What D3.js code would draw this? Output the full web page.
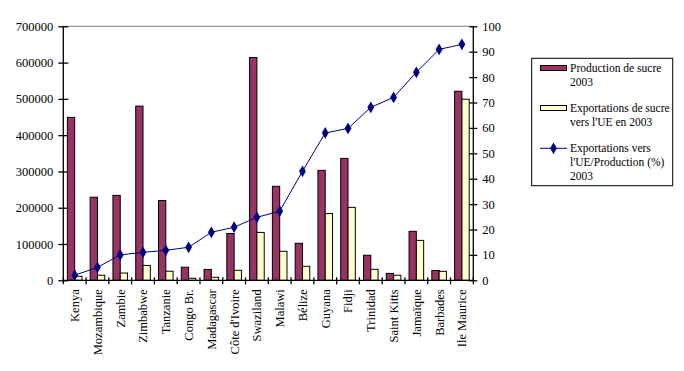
<!DOCTYPE html>
<html><head><meta charset="utf-8">
<script src="https://cdn.jsdelivr.net/npm/d3@7"></script>
<style>body{margin:0;background:#fff}svg text{font-family:"Liberation Serif","Times New Roman",serif;fill:#000}</style>
</head><body>
<svg id="c" width="684" height="371"></svg>
<script>
const categories = ["Kenya","Mozambique","Zambie","Zimbabwe","Tanzanie","Congo Br.","Madagascar","Côte d'Ivoire","Swaziland","Malawi","Bélize","Guyana","Fidji","Trinidad","Saint Kitts","Jamaïque","Barbades","Ile Maurice"];
const production = [449000,229000,234000,480000,220000,36000,30000,129000,614000,259000,102000,303000,336000,69000,19000,135000,27000,521000];
const exportsUE = [11000,14000,20000,41000,25000,5500,8300,27500,132000,80000,38600,184000,201000,30300,13800,110000,24800,499000];
const ratio = [2.0,5.1,10.0,11.0,11.8,13.0,18.9,20.9,24.8,27.2,42.9,58.0,59.8,68.1,72.0,81.9,90.9,92.9];
const leftTicks = [0,100000,200000,300000,400000,500000,600000,700000];
const rightTicks = [0,10,20,30,40,50,60,70,80,90,100];
const seriesNames = [["Production de sucre","2003"],["Exportations de sucre","vers l'UE en 2003"],["Exportations vers","l'UE/Production (%)","2003"]];

const svg = d3.select("#c");
const L=63.3, R=473.3, T=26.3, B=280.3;
const x = d3.scaleBand().domain(categories).range([L,R]).padding(0);
const y = d3.scaleLinear().domain([0,700000]).range([B,T]);
const y2 = d3.scaleLinear().domain([0,100]).range([B,T]);
const bw = 7.3;

svg.append("line").attr("x1",L).attr("x2",R).attr("y1",T).attr("y2",T).attr("stroke","#808080").attr("stroke-width",1);

const g = svg.append("g");
categories.forEach((c,i)=>{
  const cx = x(c)+x.bandwidth()/2;
  g.append("rect").attr("x",cx-bw).attr("y",y(production[i])).attr("width",bw).attr("height",B-y(production[i]))
    .attr("fill","#993366").attr("stroke","#000").attr("stroke-width",1);
  g.append("rect").attr("x",cx).attr("y",y(exportsUE[i])).attr("width",bw).attr("height",B-y(exportsUE[i]))
    .attr("fill","#FFFFCC").attr("stroke","#000").attr("stroke-width",1);
});

const line = d3.line().x((d,i)=>x(categories[i])+x.bandwidth()/2).y(d=>y2(d));
svg.append("path").datum(ratio).attr("d",line).attr("fill","none").attr("stroke","#000080").attr("stroke-width",1);
const diamond = d3.symbol().type(d3.symbolDiamond).size(40);
svg.selectAll(".mk").data(ratio).join("path").attr("class","mk").attr("d",diamond)
  .attr("transform",(d,i)=>`translate(${x(categories[i])+x.bandwidth()/2},${y2(d)})`).attr("fill","#000080");

const axL = svg.append("g").attr("transform",`translate(${L},0)`)
  .call(d3.axisLeft(y).tickValues(leftTicks).tickFormat(d3.format("d")).tickSize(5).tickPadding(5));
axL.selectAll(".tick line").attr("x2",-5).attr("x1",5);
const axR = svg.append("g").attr("transform",`translate(${R},0)`)
  .call(d3.axisRight(y2).tickValues(rightTicks).tickSize(4).tickPadding(5));
axR.selectAll(".tick line").attr("x1",-4).attr("x2",4);
const axB = svg.append("g").attr("transform",`translate(0,${B})`)
  .call(d3.axisBottom(x).tickSize(0).tickPadding(0));
[axL,axR,axB].forEach(a=>{a.attr("font-family",null);a.select(".domain").attr("stroke","#000").attr("stroke-width",1.3);a.selectAll(".tick line").attr("stroke","#000").attr("stroke-width",1.3);a.selectAll("text").style("font-size","12.5px");});
axL.select(".domain").attr("d",`M0,${T}V${B}`);
axR.select(".domain").attr("d",`M0,${T}V${B}`);
axB.select(".domain").attr("d",`M${L},0H${R}`);
const seps = categories.map(c=>x(c)).concat([R]);
axB.selectAll(".sep").data(seps).join("line").attr("class","sep").attr("x1",d=>d).attr("x2",d=>d).attr("y1",-3).attr("y2",4).attr("stroke","#000").attr("stroke-width",1.3);
axB.selectAll(".tick text").attr("transform","rotate(-90)").attr("text-anchor","end").attr("x",-9).attr("y",0).attr("dy","0.35em");

const lg = svg.append("g");
lg.append("rect").attr("x",531.7).attr("y",58.3).attr("width",141).attr("height",127.4).attr("fill","#fff").attr("stroke","#000").attr("stroke-width",1);
lg.append("rect").attr("x",540.5).attr("y",65.5).attr("width",26).attr("height",5).attr("fill","#993366").attr("stroke","#000");
lg.append("rect").attr("x",540.5).attr("y",105.5).attr("width",26).attr("height",5).attr("fill","#FFFFCC").attr("stroke","#000");
lg.append("line").attr("x1",540).attr("x2",567).attr("y1",148.3).attr("y2",148.3).attr("stroke","#000080");
lg.append("path").attr("d",diamond).attr("transform","translate(553.5,148.3)").attr("fill","#000080");
const starts=[67.7,107.7,148.3];
seriesNames.forEach((lines,k)=>{
  lines.forEach((t,j)=>{
    lg.append("text").attr("x",570).attr("y",starts[k]+j*14).attr("dy","0.35em").style("font-size","11.5px").text(t);
  });
});
</script>
</body></html>
